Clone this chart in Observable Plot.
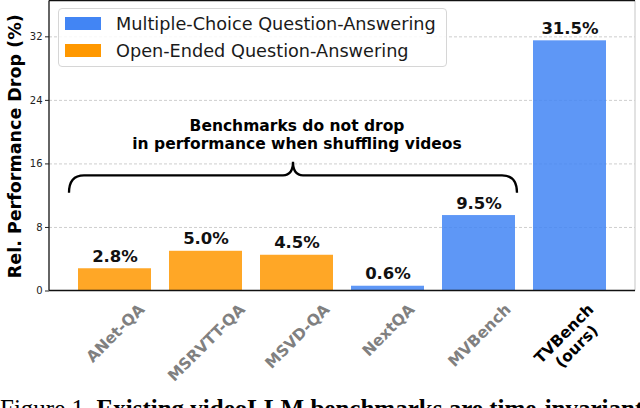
<!DOCTYPE html>
<html><head><meta charset="utf-8">
<script src="https://cdn.jsdelivr.net/npm/d3@7"></script>
<script src="https://cdn.jsdelivr.net/npm/@observablehq/plot@0.6"></script>
<style>
html,body{margin:0;padding:0;background:#fff;}
body{width:640px;height:408px;overflow:hidden;position:relative;font-family:"DejaVu Sans",sans-serif;}
#chart svg{display:block;}
.legend{position:absolute;left:58px;top:8px;width:389px;height:59px;box-sizing:border-box;border:1px solid #d6d6d6;border-radius:4px;background:rgba(255,255,255,0.85);}
.item{position:absolute;left:0;height:20px;line-height:20px;white-space:nowrap;}
.sw{position:absolute;left:6px;top:3px;width:36px;height:13px;}
.lbl{position:absolute;left:57px;top:0;font-size:17.7px;color:#1a1a1a;}
.caption{font-family:"Liberation Serif",serif;font-size:25px;line-height:25px;white-space:nowrap;color:#000;}
</style></head><body>
<div id="chart"></div>
<div class="legend" id="legend"></div>
<div class="caption">Figure 1. <b>Existing videoLLM benchmarks are time-invariant</b></div>
<script>
// ---- data ----
const categories = ["ANet-QA", "MSRVTT-QA", "MSVD-QA", "NextQA", "MVBench", "TVBench\n(ours)"];
const values = [2.8, 5.0, 4.5, 0.6, 9.5, 31.5];
const types = ["Open-Ended Question-Answering", "Open-Ended Question-Answering", "Open-Ended Question-Answering",
  "Multiple-Choice Question-Answering", "Multiple-Choice Question-Answering", "Multiple-Choice Question-Answering"];
const typeNames = ["Multiple-Choice Question-Answering", "Open-Ended Question-Answering"];
const typeColors = ["#4285F4", "#FF9800"];
const yTicks = [0, 8, 16, 24, 32];
const gridTicks = [8, 16, 24, 32];
const yLabel = "Rel. Performance Drop (%)";
const annotationText = ["Benchmarks do not drop\nin performance when shuffling videos"];
const annotationAt = {x: "MSVD-QA", y: 19.7};
const braceSpan = ["ANet-QA", "MVBench"];
const braceLevels = {tip: 12.3, bar: 14.5, peak: 16.2};
const highlighted = ["TVBench\n(ours)"];

const data = categories.map((c, i) => ({name: c, value: values[i], type: types[i]}));

// ---- x label placement (centered, rotated 45°) ----
const xFs = 15.5;
const ctx = document.createElement("canvas").getContext("2d");
ctx.font = `bold ${xFs}px "DejaVu Sans"`;
function labelDy(t) {
  const lines = t.split("\n");
  const L = Math.max(...lines.map(l => ctx.measureText(l).width));
  const H = (lines.length - 1) * xFs * 1.15 + xFs * 0.73;
  return 11.5 + 0.3536 * (L + H);
}

function frameAndBrace(index, scales, vals, dims) {
  const x = scales.x, y = scales.y;
  const step = x(categories[1]) - x(categories[0]);
  const bw = typeof x.bandwidth === "function" ? x.bandwidth() : step * 0.8;
  const g = d3.create("svg:g");
  const l = dims.marginLeft, r = dims.width - dims.marginRight;
  const t = dims.marginTop - 0.5, b = dims.height - dims.marginBottom;
  g.append("line").attr("x1", r).attr("x2", r).attr("y1", t).attr("y2", b).attr("stroke", "#cfcfcf").attr("stroke-width", 1.2);
  g.append("line").attr("x1", l).attr("x2", r).attr("y1", t).attr("y2", t).attr("stroke", "#111").attr("stroke-width", 1.3);
  g.append("line").attr("x1", l).attr("x2", l).attr("y1", t).attr("y2", b).attr("stroke", "#111").attr("stroke-width", 1.3);
  g.append("line").attr("x1", l).attr("x2", r).attr("y1", b).attr("y2", b).attr("stroke", "#111").attr("stroke-width", 1.3);
  // brace
  const x0 = x(braceSpan[0]) - 9, x1 = x(braceSpan[1]) + bw + 2;
  const xm = (x0 + x1) / 2;
  const yT = y(braceLevels.tip), yH = y(braceLevels.bar), yP = y(braceLevels.peak);
  const rr = 15;
  const d = `M${x0},${yT} Q${x0},${yH} ${x0 + rr},${yH} L${xm - 10},${yH} Q${xm},${yH} ${xm},${yP} Q${xm},${yH} ${xm + 10},${yH} L${x1 - rr},${yH} Q${x1},${yH} ${x1},${yT}`;
  g.append("path").attr("d", d).attr("fill", "none").attr("stroke", "#000").attr("stroke-width", 2.3);
  return g.node();
}

const xLabelMarks = categories.map(c => Plot.text([c], {
  x: d => d, frameAnchor: "bottom", dy: labelDy(c), rotate: -45,
  textAnchor: "middle", lineAnchor: "middle", lineHeight: 1.15,
  fontSize: xFs, fontWeight: "bold", fill: highlighted.includes(c) ? "#000" : "#808080"
}));

const chart = Plot.plot({
  width: 640, height: 396,
  marginTop: 1, marginLeft: 49, marginRight: 5, marginBottom: 105.5,
  style: {fontFamily: "DejaVu Sans", background: "#fff"},
  x: {domain: categories, paddingInner: 0.2, paddingOuter: 0.285, axis: null},
  y: {domain: [0, 36.45], label: null},
  color: {domain: typeNames, range: typeColors},
  marks: [
    Plot.gridY(gridTicks, {stroke: "#c8c8c8", strokeOpacity: 1, strokeDasharray: "3,2", strokeWidth: 0.9}),
    Plot.barY(data, {x: "name", y: "value", fill: "type", fillOpacity: 0.85}),
    frameAndBrace,
    Plot.axisY(yTicks, {tickSize: 4, tickPadding: 3, fontSize: 10, color: "#222", label: null}),
    Plot.text([yLabel], {frameAnchor: "left", dx: -34, rotate: -90, text: d => d, textAnchor: "middle", fontSize: 17.5, fontWeight: "bold", fill: "#000", lineAnchor: "middle"}),
    Plot.text(data, {x: "name", y: "value", text: d => d.value.toFixed(1) + "%", dy: -7, lineAnchor: "bottom", fontSize: 16.5, fontWeight: "bold", fill: "#111"}),
    Plot.text(annotationText, {x: () => annotationAt.x, y: () => annotationAt.y, text: d => d, fontSize: 15.5, fontWeight: "bold", lineHeight: 1.1, lineAnchor: "middle", fill: "#000"}),
    ...xLabelMarks
  ]
});
document.getElementById("chart").appendChild(chart);

// legend
const leg = document.getElementById("legend");
typeNames.forEach((n, i) => {
  const it = document.createElement("div");
  it.className = "item";
  it.style.top = (5 + i * 26.5) + "px";
  it.style.width = "100%";
  it.innerHTML = `<span class="sw" style="background:${typeColors[i]}"></span><span class="lbl">${n}</span>`;
  leg.appendChild(it);
});
</script>
</body></html>
